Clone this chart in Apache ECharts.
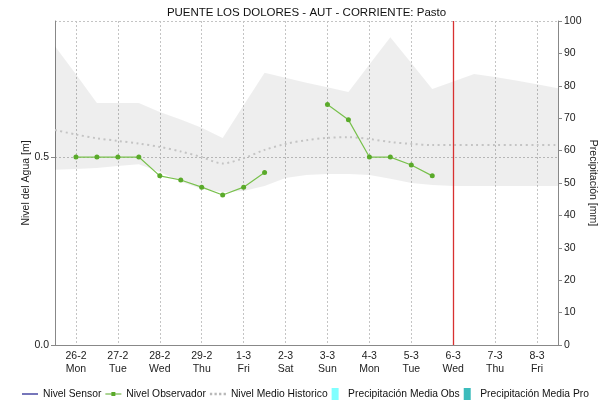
<!DOCTYPE html>
<html>
<head>
<meta charset="utf-8">
<script src="https://cdn.jsdelivr.net/npm/echarts@6/dist/echarts.min.js"></script>
<style>
  html, body { margin: 0; padding: 0; background: #fff; }
  #chart { width: 613px; height: 402px; }
</style>
</head>
<body>
<div id="chart"></div>
<script>
// half-day steps, from 25-2 12h to 8-3 12h
const days = ["26-2", "27-2", "28-2", "29-2", "1-3", "2-3", "3-3", "4-3", "5-3", "6-3", "7-3", "8-3"];
const weekdays = ["Mon", "Tue", "Wed", "Thu", "Fri", "Sat", "Sun", "Mon", "Tue", "Wed", "Thu", "Fri"];

const bandHigh = [0.795, 0.72, 0.644, 0.644, 0.644, 0.62, 0.6, 0.578, 0.551, 0.638, 0.724, 0.711, 0.698,
  0.686, 0.673, 0.746, 0.819, 0.75, 0.681, 0.701, 0.721, 0.713, 0.704, 0.694, 0.683];
const bandLow = [0.466, 0.468, 0.471, 0.476, 0.481, 0.46, 0.434, 0.415, 0.407, 0.41, 0.423, 0.444, 0.452,
  0.455, 0.455, 0.452, 0.442, 0.431, 0.426, 0.423, 0.423, 0.423, 0.423, 0.423, 0.423];
const nivelMedio = [0.572, 0.56, 0.55, 0.543, 0.536, 0.527, 0.515, 0.5, 0.483, 0.497, 0.519, 0.535, 0.545,
  0.551, 0.553, 0.548, 0.54, 0.535, 0.532, 0.532, 0.532, 0.532, 0.532, 0.532, 0.532];
const nivelObservador = [null, 0.5, 0.5, 0.5, 0.5, 0.45, 0.439, 0.42, 0.399, 0.42, 0.459, null, null,
  0.64, 0.599, 0.5, 0.5, 0.479, 0.45, null, null, null, null, null, null];
const nivelSensor = [];
const precipObs = [];
const precipPro = [];
const hoyDay = "6-3";

const slots = [];
for (let i = 0; i < 25; i++) slots.push(i);
const isDay = (i) => i % 2 === 1;
const bandDelta = bandHigh.map((v, i) => +(v - bandLow[i]).toFixed(3));

const font = "Liberation Sans, Arial, sans-serif";
const lineIcon = "path://M0,5h16v1.2h-16z";
const dotLineIcon = "path://M0,1.4h16v1.2h-16z M6,0h4v4h-4z";
const dottedIcon = "path://M0,0h2v2h-2z M4,0h2v2h-2z M8,0h2v2h-2z M12,0h2v2h-2z";
const barIcon = "path://M0,0h7v12h-7z";
const hoyColor = "#d83030";

const chart = echarts.init(document.getElementById("chart"));
chart.setOption({
  animation: false,
  textStyle: { fontFamily: font },
  title: {
    text: "PUENTE LOS DOLORES - AUT - CORRIENTE: Pasto",
    left: "center",
    top: 2,
    textStyle: { fontSize: 11.5, fontWeight: "normal", color: "#111", fontFamily: font },
  },
  grid: { left: 55, right: 55, top: 21, bottom: 57 },
  legend: {
    left: 17,
    top: 383,
    width: 600,
    itemWidth: 16,
    itemHeight: 12,
    itemGap: 4,
    textStyle: { fontSize: 10.3, color: "#111", fontFamily: font },
    data: [
      { name: "Nivel Sensor", icon: lineIcon },
      { name: "Nivel Observador", icon: dotLineIcon },
      { name: "Nivel Medio Historico", icon: dottedIcon },
      { name: "Precipitación Media Obs", icon: barIcon },
      { name: "Precipitación Media Pro", icon: barIcon },
    ],
  },
  xAxis: [
    {
      type: "category",
      data: slots,
      boundaryGap: false,
      axisLine: { lineStyle: { color: "#555", type: [1, 1] } },
      axisTick: { show: false },
      axisLabel: {
        interval: (i) => isDay(i),
        color: "#222",
        fontSize: 10.5,
        lineHeight: 13,
        margin: 5,
        formatter: (v, i) => days[(i - 1) / 2] + "\n" + weekdays[(i - 1) / 2],
      },
      splitLine: {
        show: true,
        interval: (i) => isDay(i),
        lineStyle: { color: "#c4c4c4", type: [2, 2] },
      },
    },
    {
      type: "category",
      position: "top",
      data: slots,
      boundaryGap: false,
      axisLine: { lineStyle: { color: "#888" } },
      axisTick: { show: false },
      axisLabel: { show: false },
    },
  ],
  yAxis: [
    {
      type: "value",
      min: 0,
      max: 0.862,
      interval: 0.5,
      name: "Nivel del Agua [m]",
      nameLocation: "middle",
      nameGap: 23,
      nameMoveOverlap: false,
      nameTextStyle: { fontSize: 10.5, color: "#222" },
      axisLine: { show: true, lineStyle: { color: "#888" } },
      axisTick: { show: true, length: 4, lineStyle: { color: "#888" } },
      axisLabel: { color: "#222", fontSize: 10.5, margin: 6, showMaxLabel: false, formatter: (v) => v.toFixed(1) },
      splitLine: { show: true, lineStyle: { color: "#c4c4c4", type: [2, 2] } },
    },
    {
      type: "value",
      min: 0,
      max: 100,
      interval: 10,
      position: "right",
      name: "Precipitación [mm]",
      nameLocation: "middle",
      nameRotate: -90,
      nameGap: 29,
      nameMoveOverlap: false,
      nameTextStyle: { fontSize: 10.5, color: "#222" },
      axisLine: { show: true, lineStyle: { color: "#888" } },
      axisTick: { show: true, length: 4, lineStyle: { color: "#888" } },
      axisLabel: { color: "#222", fontSize: 10.5, margin: 6 },
      splitLine: { show: false },
    },
  ],
  series: [
    {
      name: "bandLow",
      type: "line",
      stack: "band",
      data: bandLow,
      symbol: "none",
      lineStyle: { opacity: 0 },
      silent: true,
      z: 1,
    },
    {
      name: "bandHigh",
      type: "line",
      stack: "band",
      data: bandDelta,
      symbol: "none",
      lineStyle: { opacity: 0 },
      areaStyle: { color: "rgba(0,0,0,0.065)", opacity: 1 },
      silent: true,
      z: 1,
    },
    {
      name: "Nivel Sensor",
      type: "line",
      data: nivelSensor,
      symbol: "none",
      itemStyle: { color: "#1c1c8c" },
      lineStyle: { color: "#1c1c8c", width: 1.5 },
    },
    {
      name: "Nivel Observador",
      type: "line",
      data: nivelObservador,
      symbol: "circle",
      symbolSize: 5,
      connectNulls: false,
      itemStyle: { color: "#5aaa2a" },
      lineStyle: { color: "#78c04c", width: 1.2 },
      z: 4,
    },
    {
      name: "hoy",
      type: "line",
      color: hoyColor,
      data: [],
      z: 5,
      markLine: {
        silent: true,
        symbol: "none",
        label: { show: false },
        itemStyle: { color: hoyColor },
        lineStyle: { color: hoyColor, type: "solid", width: 1.3, opacity: 1 },
        emphasis: { disabled: true },
        data: [{ xAxis: days.indexOf(hoyDay) * 2 + 1, lineStyle: { color: hoyColor } }],
      },
    },
    {
      name: "Nivel Medio Historico",
      type: "line",
      data: nivelMedio,
      symbol: "none",
      smooth: 0.3,
      itemStyle: { color: "#b8b8b8" },
      lineStyle: { color: "#c4c4c4", width: 2, type: [2, 3.5] },
      z: 3,
    },
    {
      name: "Precipitación Media Obs",
      type: "bar",
      yAxisIndex: 1,
      data: precipObs,
      itemStyle: { color: "#80ffff" },
    },
    {
      name: "Precipitación Media Pro",
      type: "bar",
      yAxisIndex: 1,
      data: precipPro,
      itemStyle: { color: "#3cbcbc" },
    },
  ],
});
</script>
</body>
</html>
